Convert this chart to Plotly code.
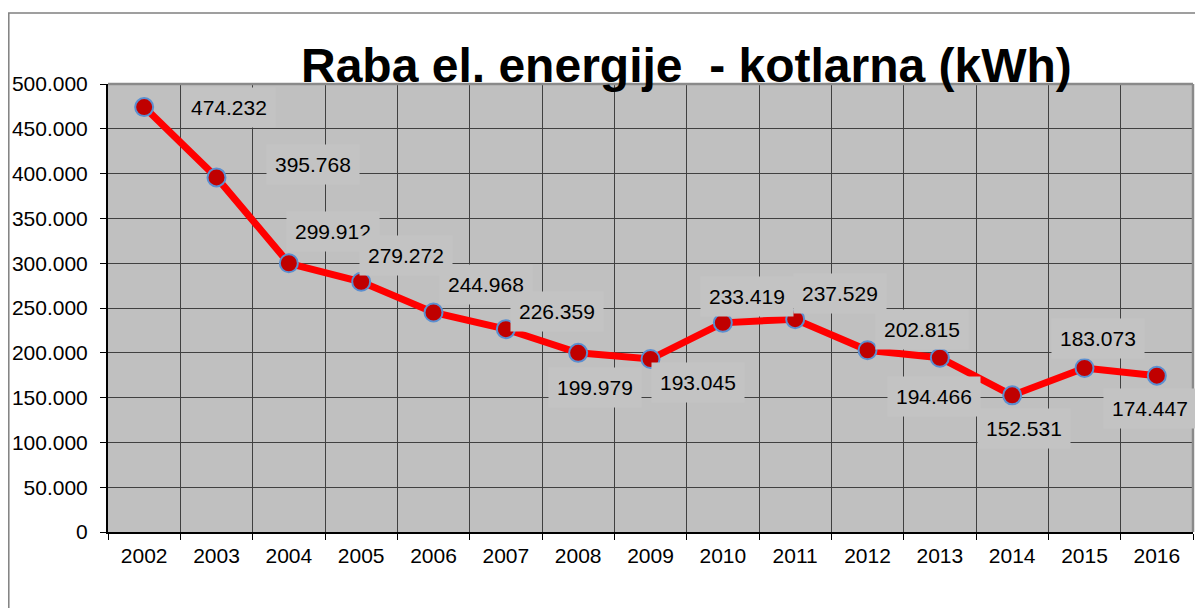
import plotly.graph_objects as go

years = ["2002", "2003", "2004", "2005", "2006", "2007", "2008", "2009",
         "2010", "2011", "2012", "2013", "2014", "2015", "2016"]
kwh = [474232, 395768, 299912, 279272, 244968, 226359, 199979, 193045,
       233419, 237529, 202815, 194466, 152531, 183073, 174447]

# pixel offsets of the data labels relative to their points (dx, dy up)
label_offsets = [(85, 0), (96, 13), (44, 32), (45, 26), (52, 28), (51, 18),
                 (17, -35), (47, -23), (24, 26), (45, 26), (54, 21), (-6, -39),
                 (12, -33), (13, 29), (-7, -33)]

FONT = "Liberation Sans, Arial, sans-serif"
L, R, T, B = 100, 18, 76, 84
PW, PH = 1203 - L - R, 608 - T - B

def fmt(v):
    return f"{v:,}".replace(",", ".")

fig = go.Figure()
fig.add_trace(go.Scatter(
    x=years, y=kwh, mode="lines+markers",
    line=dict(color="#ff0000", width=7),
    marker=dict(size=18, color="#c00000", line=dict(color="#5b8fd0", width=2)),
    hoverinfo="skip", showlegend=False,
))

annotations = []
for i, (v, (dx, dy)) in enumerate(zip(kwh, label_offsets)):
    annotations.append(dict(
        x=i, y=v, xref="x", yref="y", text=fmt(v), showarrow=False,
        xshift=dx, yshift=dy, bgcolor="#c3c3c3", borderpad=8,
        font=dict(family=FONT, size=21, color="#000000"),
    ))

annotations.append(dict(
    text="<b>Raba el. energije &nbsp;- kotlarna (kWh)</b>",
    xref="paper", yref="paper", x=(678 - L) / PW, y=(T + PH - 57) / PH,
    xanchor="center", yanchor="middle", showarrow=False,
    font=dict(family=FONT, size=48, color="#000000"),
))

fig.update_layout(
    width=1203, height=608,
    margin=dict(l=L, r=R, t=T, b=B, autoexpand=False),
    paper_bgcolor="#ffffff", plot_bgcolor="#c0c0c0",
    separators=",.",
    annotations=annotations,
    shapes=[
        dict(type="rect", xref="paper", yref="paper",
             x0=(0.8 - L) / PW, x1=(1215 - L) / PW,
             y0=-0.4, y1=(T + PH - 5) / PH,
             line=dict(color="#808080", width=1.5), layer="below"),
        dict(type="line", xref="paper", yref="paper", x0=0, x1=1, y0=1, y1=1,
             line=dict(color="#8a8a8a", width=2.5)),
        dict(type="line", xref="paper", yref="paper", x0=1, x1=1, y0=0, y1=1,
             line=dict(color="#8a8a8a", width=2.5)),
    ],
)

fig.update_xaxes(
    type="category", tickson="boundaries", showgrid=True,
    gridcolor="#404040", gridwidth=1, automargin=False,
    showline=True, linecolor="#000000", linewidth=2,
    ticks="outside", ticklen=6, tickcolor="#000000",
    ticklabelstandoff=4,
    tickfont=dict(family=FONT, size=21, color="#000000"),
    range=[-0.5, 14.5], fixedrange=True,
)
fig.update_yaxes(
    range=[0, 500000], dtick=50000, tickformat=",d",
    showgrid=True, gridcolor="#404040", gridwidth=1, zeroline=False,
    showline=True, linecolor="#000000", linewidth=2, automargin=False,
    ticks="outside", ticklen=6, tickcolor="#000000",
    ticklabelstandoff=8,
    tickfont=dict(family=FONT, size=21, color="#000000"),
    fixedrange=True,
)

fig.write_html("out.html")
